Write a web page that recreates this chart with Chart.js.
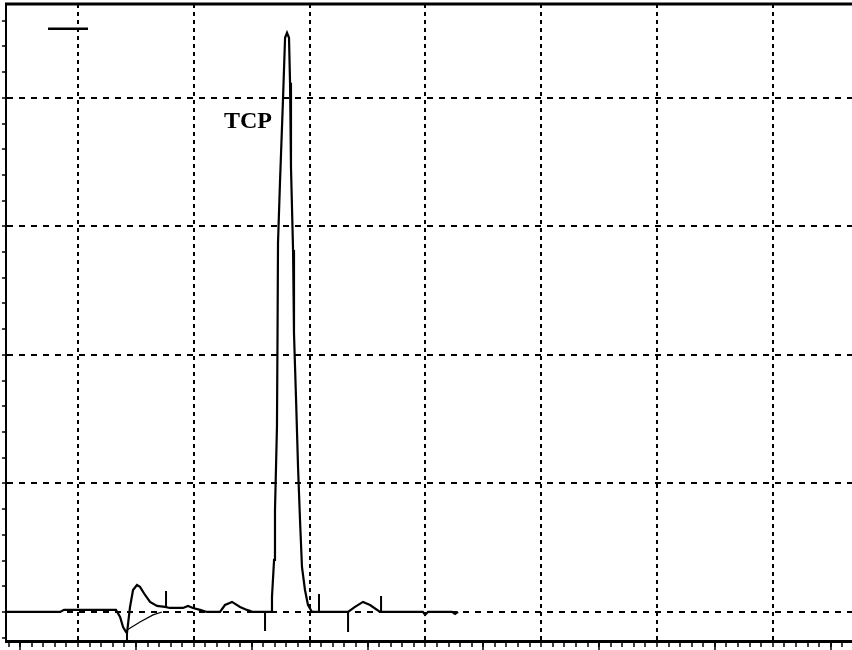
<!DOCTYPE html>
<html>
<head>
<meta charset="utf-8">
<script src="https://cdn.jsdelivr.net/npm/chart.js@4/dist/chart.umd.min.js"></script>
<style>
  body { margin: 0; background: #fff; }
  #wrap { width: 852px; height: 650px; }
</style>
</head>
<body>
<div id="wrap"><canvas id="chrom" width="852" height="650"></canvas></div>
<script>
// retention time (grid units) and detector signal
const time = [-0.613, -0.155, -0.121, 0.328, 0.363, 0.389, 0.415, 0.423, 0.449, 0.475,
  0.509, 0.535, 0.579, 0.622, 0.682, 0.751, 0.794, 0.907, 0.950, 0.993,
  1.054, 1.114, 1.226, 1.269, 1.330, 1.399, 1.459, 1.511, 1.667, 1.675,
  1.693, 1.701, 1.718, 1.723, 1.727, 1.744, 1.770, 1.788, 1.805, 1.822,
  1.831, 1.839, 1.857, 1.865, 1.883, 1.900, 1.917, 1.934, 1.960, 1.986,
  2.021, 2.332, 2.392, 2.461, 2.522, 2.608, 2.979, 2.997, 3.022, 3.230,
  3.256, 3.282];
const signal = [0, 0, 0.016, 0.016, -0.039, -0.117, -0.156, -0.163, 0.039, 0.171,
  0.210, 0.195, 0.132, 0.078, 0.047, 0.039, 0.031, 0.031, 0.047, 0.031,
  0.016, 0, 0, 0.054, 0.078, 0.039, 0.016, 0, 0, 0.117,
  0.405, 0.794, 1.440, 2.171, 2.872, 3.339, 3.984, 4.467, 4.506, 4.467,
  4.117, 3.463, 2.817, 2.171, 1.650, 1.128, 0.716, 0.350, 0.171, 0.054,
  0, 0, 0.039, 0.078, 0.054, 0, 0, -0.023, 0, 0,
  -0.016, 0];

// integration event marks: position, start and end level
const markTime = [0.423, 0.760, 1.615, 2.081, 2.332, 2.617];
const markFrom = [-0.163, 0.039, 0, 0, 0, 0];
const markTo = [-0.22, 0.163, -0.148, 0.140, -0.156, 0.124];

// drawn baseline under the first (negative) peak
const baseTime = [0.423, 0.535, 0.648, 0.725];
const baseLevel = [-0.140, -0.078, -0.023, 0];

const peakName = 'TCP';
const peakLabelAt = [1.468, 3.767];

const xMin = -0.622, xMax = 6.684;
const yMin = -0.226, yMax = 4.73;

const tracePts = time.map((t, i) => ({ x: t, y: signal[i] }));
const markPts = [];
markTime.forEach((t, i) => {
  markPts.push({ x: t, y: markFrom[i] }, { x: t, y: markTo[i] }, { x: t, y: null });
});
const basePts = baseTime.map((t, i) => ({ x: t, y: baseLevel[i] }));

function stepTicks(lo, hi, step) {
  const out = [];
  for (let v = Math.ceil(lo / step) * step; v <= hi + 1e-9; v += step) {
    out.push({ value: Math.round(v * 10) / 10 });
  }
  return out;
}
const isMajor = v => Math.abs(v - Math.round(v)) < 1e-6;

const extras = {
  id: 'extras',
  afterDraw(chart) {
    const { ctx, chartArea, scales } = chart;
    const x = scales.x, y = scales.y;
    ctx.save();
    ctx.strokeStyle = '#000';
    // top frame line
    ctx.lineWidth = 3;
    ctx.beginPath();
    ctx.moveTo(chartArea.left - 1, chartArea.top);
    ctx.lineTo(chartArea.right, chartArea.top);
    ctx.stroke();
    // long ticks at half divisions
    ctx.lineWidth = 1.5;
    for (let v = -0.5; v < xMax; v += 1) {
      const px = Math.round(x.getPixelForValue(v));
      ctx.beginPath();
      ctx.moveTo(px, chartArea.bottom);
      ctx.lineTo(px, chartArea.bottom + 10);
      ctx.stroke();
    }
    // short legend line top left
    ctx.lineWidth = 2.5;
    ctx.beginPath();
    ctx.moveTo(x.getPixelForValue(-0.259), y.getPixelForValue(4.537));
    ctx.lineTo(x.getPixelForValue(0.086), y.getPixelForValue(4.537));
    ctx.stroke();
    // peak name
    ctx.fillStyle = '#000';
    ctx.font = 'bold 24px "Liberation Serif", serif';
    ctx.textAlign = 'center';
    ctx.textBaseline = 'alphabetic';
    ctx.fillText(peakName, x.getPixelForValue(peakLabelAt[0]), y.getPixelForValue(peakLabelAt[1]));
    ctx.restore();
  }
};

new Chart(document.getElementById('chrom'), {
  type: 'line',
  data: {
    datasets: [{
      label: 'signal',
      data: tracePts,
      borderColor: '#000',
      borderWidth: 2.2,
      pointRadius: 0,
      tension: 0
    }, {
      label: 'events',
      data: markPts,
      borderColor: '#000',
      borderWidth: 2,
      pointRadius: 0,
      spanGaps: false
    }, {
      label: 'baseline',
      data: basePts,
      borderColor: '#000',
      borderWidth: 1.2,
      pointRadius: 0
    }]
  },
  options: {
    responsive: false,
    animation: false,
    layout: { padding: { left: 2, top: 4, right: 0, bottom: 3 } },
    plugins: {
      legend: { display: false },
      tooltip: { enabled: false }
    },
    scales: {
      x: {
        type: 'linear',
        min: xMin,
        max: xMax,
        afterBuildTicks: axis => { axis.ticks = stepTicks(xMin, xMax, 0.1); },
        ticks: { display: false },
        grid: {
          color: c => isMajor(c.tick.value) ? '#000' : 'rgba(0,0,0,0)',
          lineWidth: 2,
          tickColor: '#000',
          tickLength: 6,
          tickWidth: 1.5
        },
        border: { display: true, color: '#000', width: 3, dash: [4, 4] }
      },
      y: {
        type: 'linear',
        min: yMin,
        max: yMax,
        afterBuildTicks: axis => { axis.ticks = stepTicks(yMin, yMax, 0.2); },
        ticks: { display: false },
        grid: {
          color: c => isMajor(c.tick.value) ? '#000' : 'rgba(0,0,0,0)',
          lineWidth: 2,
          tickColor: '#000',
          tickLength: 4,
          tickWidth: 1.5
        },
        border: { display: true, color: '#000', width: 2, dash: [6, 6] }
      }
    }
  },
  plugins: [extras]
});
</script>
</body>
</html>
